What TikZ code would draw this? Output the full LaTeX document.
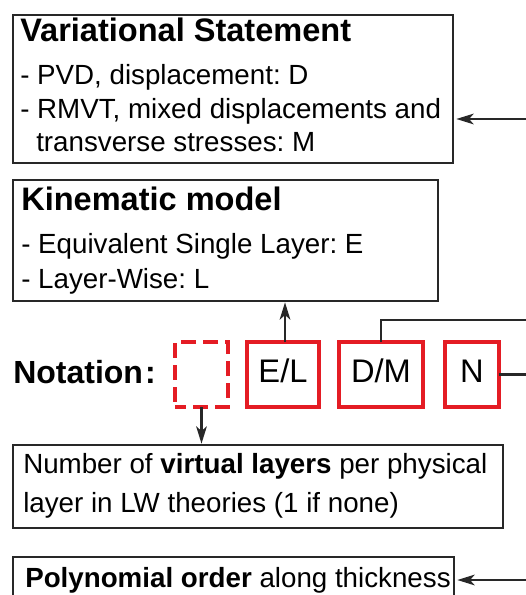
\documentclass[tikz,border=0pt]{standalone}
\usepackage{fontspec}
\setmainfont{Liberation Sans}
\usetikzlibrary{arrows.meta}
\definecolor{boxred}{RGB}{228,28,36}
\definecolor{ink}{RGB}{40,40,40}
\begin{document}
\frenchspacing
\begin{tikzpicture}[x=0.75pt,y=-0.75pt,
  box/.style={draw=ink, line width=1.8pt, inner sep=0pt, outer sep=0pt, anchor=north west},
  redbox/.style={draw=boxred, line width=2.4pt, inner sep=0pt, outer sep=0pt, anchor=north west,
    minimum height=48.75pt, font=\fontsize{24.5}{28}\selectfont,
    text height=12.5pt, text depth=0pt},
  dashbox/.style={redbox, dash pattern=on 11pt off 5.5pt, dash phase=3pt},
  txt/.style={anchor=base west, inner sep=0pt, font=\fontsize{20.8}{25}\selectfont},
  head/.style={anchor=base west, inner sep=0pt, font=\fontsize{24.4}{28}\selectfont\bfseries},
  conn/.style={draw=ink, line width=1.7pt},
  arr/.style={conn, -{Stealth[length=13pt, width=8pt, inset=3.5pt]}}]
\useasboundingbox (0,0) rectangle (525,595);

% Variational statement
\node[box, minimum width=330pt, minimum height=111pt] (vs) at (13,15) {};
\node[head] (vsh) at (20,42) {Variational Statement};
\node[txt] (vs1) at (20,85) {- PVD, displacement: D};
\node[txt] (vs2) at (20,119) {- RMVT, mixed displacements and};
\node[txt] (vs3) at (36,152) {transverse stresses: M};

% Kinematic model
\node[box, minimum width=318.75pt, minimum height=90.75pt] (km) at (13,180) {};
\node[head] (kmh) at (21,210) {Kinematic model};
\node[txt] (km1) at (21,253) {- Equivalent Single Layer: E};
\node[txt] (km2) at (21,288) {- Layer-Wise: L};

% Notation row
\node[anchor=base west, inner sep=0pt, font=\fontsize{24}{28}\selectfont\bfseries] (nt) at (13,383) {Notation\kern1.5pt:};
\node[dashbox, minimum width=39.75pt] (vb) at (175,342) {};
\node[redbox, minimum width=54pt] (el) at (247,342) {E/L};
\node[redbox, minimum width=63pt] (dm) at (339,342) {D/M};
\node[redbox, minimum width=40.5pt] (nn) at (445,342) {N};

% Virtual layers
\node[box, minimum width=367.5pt, minimum height=62.25pt] (vl) at (13,445) {};
\node[txt] (vl1) at (23,473) {Number of \textbf{virtual layers} per physical};
\node[txt] (vl2) at (23,512) {layer in LW theories (1 if none)};

% Polynomial order
\node[box, minimum width=330.75pt, minimum height=52.5pt] (po) at (13,557) {};
\node[txt] (po1) at (25,587) {\textbf{Polynomial order} along thickness};

% free ends at the right edge
\coordinate (rvs) at (527,119);
\coordinate (rdm) at (527,320);
\coordinate (rpo) at (527,580);
\coordinate (rnn) at (527,374.5);

% connectors
\draw[arr, shorten >=2.5pt] (rvs) -- (rvs -| vs.east);
\draw[arr, shorten >=1pt] ([xshift=1.5pt]el.north) -- ([xshift=1.5pt]el.north |- km.south);
\draw[conn] (dm.north) |- (rdm);
\draw[conn] (nn.east) -- (nn.east -| rnn);
\draw[arr, shorten >=1pt] (vb.south) -- (vb.south |- vl.north);
\draw[arr, shorten >=2.5pt] (rpo) -- (rpo -| po.east);
\end{tikzpicture}
\end{document}
